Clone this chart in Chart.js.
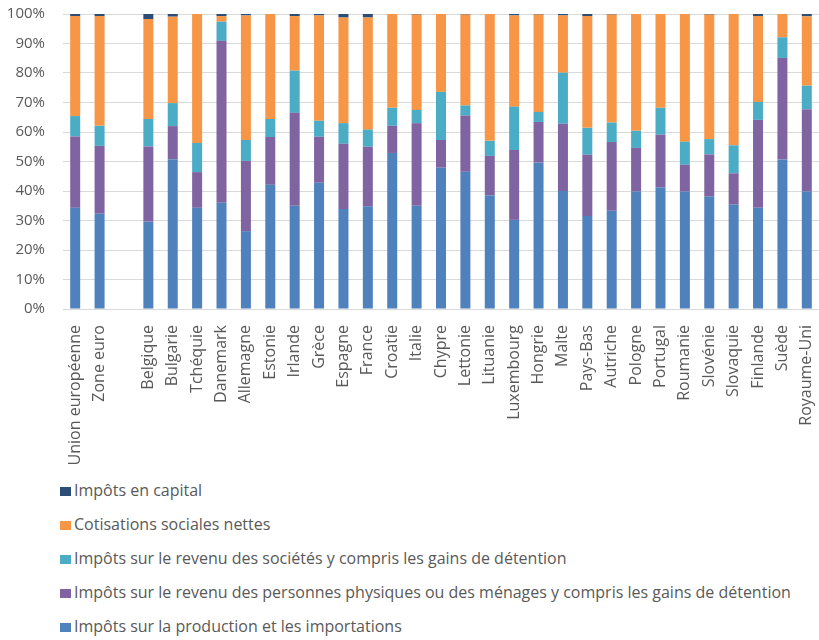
<!DOCTYPE html>
<html>
<head>
<meta charset="utf-8">
<script src="https://cdn.jsdelivr.net/npm/chart.js@4/dist/chart.umd.min.js"></script>
<style>
  body { margin: 0; background: #fff; }
  #wrap { position: relative; width: 819px; height: 640px; }
  #box { position: absolute; left: 0; top: 0; width: 819px; height: 470px; }
  #legend { position: absolute; left: 60px; top: 478px; font-family: "Open Sans", sans-serif; font-size: 16px; color: #595959; }
  #legend div { height: 34px; line-height: 25px; white-space: nowrap; }
  #legend span.sw { display: inline-block; width: 11px; height: 9px; margin-right: 3px; vertical-align: 0px; }
</style>
</head>
<body>
<div id="wrap">
  <div id="box"><canvas id="taxChart"></canvas></div>
  <div id="legend"></div>
</div>
<script>
// categories (empty slot between the aggregates and the countries)
const pays = ['Union européenne', 'Zone euro', '', 'Belgique', 'Bulgarie', 'Tchéquie', 'Danemark', 'Allemagne',
  'Estonie', 'Irlande', 'Grèce', 'Espagne', 'France', 'Croatie', 'Italie', 'Chypre', 'Lettonie', 'Lituanie',
  'Luxembourg', 'Hongrie', 'Malte', 'Pays-Bas', 'Autriche', 'Pologne', 'Portugal', 'Roumanie', 'Slovénie',
  'Slovaquie', 'Finlande', 'Suède', 'Royaume-Uni'];

// shares in % of total receipts
const production = [34.3, 32.3, null, 29.6, 50.8, 34.3, 36.0, 26.4, 42.1, 35.0, 42.8, 33.9, 34.8, 52.9, 35.0, 47.9, 46.5, 38.6, 30.2, 49.6, 40.0, 31.5, 33.3, 39.8, 41.3, 39.8, 38.1, 35.4, 34.3, 50.7, 39.8];
const menages    = [24.2, 23.0, null, 25.5, 11.2, 12.1, 54.9, 23.8, 16.2, 31.5, 15.6, 22.1, 20.2,  9.2, 28.0,  9.4, 19.1, 13.3, 23.7, 13.8, 22.8, 20.8, 23.3, 14.8, 17.8,  9.1, 14.3, 10.6, 29.8, 34.4, 27.9];
const societes   = [ 6.9,  6.8, null,  9.3,  7.8,  9.9,  6.5,  7.1,  6.1, 14.3,  5.4,  7.0,  5.8,  6.1,  4.5, 16.3,  3.4,  5.1, 14.7,  3.4, 17.3,  9.1,  6.6,  5.8,  9.1,  7.8,  5.2,  9.5,  6.1,  7.0,  8.0];
const cotisations= [33.9, 37.2, null, 33.9, 29.3, 43.7,  1.9, 42.2, 35.6, 18.5, 35.7, 35.8, 38.0, 31.8, 32.3, 26.4, 30.8, 43.0, 30.9, 33.0, 19.4, 37.9, 36.6, 39.6, 31.8, 43.3, 42.2, 44.5, 29.1,  7.9, 23.5];
const capital    = [ 0.7,  0.7, null,  1.7,  0.9,  0.0,  0.7,  0.5,  0.0,  0.7,  0.5,  1.2,  1.2,  0.0,  0.2,  0.0,  0.2,  0.0,  0.5,  0.2,  0.5,  0.7,  0.2,  0.0,  0.0,  0.0,  0.2,  0.0,  0.7,  0.0,  0.8];

const yTicks = [0, 10, 20, 30, 40, 50, 60, 70, 80, 90, 100];

const gris = '#595959';
const grille = '#d9d9d9';

const chartData = {
  labels: pays,
  datasets: [
    { label: 'Impôts sur la production et les importations', data: production, backgroundColor: '#4F81BD' },
    { label: 'Impôts sur le revenu des personnes physiques ou des ménages y compris les gains de détention', data: menages, backgroundColor: '#8064A2' },
    { label: 'Impôts sur le revenu des sociétés y compris les gains de détention', data: societes, backgroundColor: '#4BACC6' },
    { label: 'Cotisations sociales nettes', data: cotisations, backgroundColor: '#F79646' },
    { label: 'Impôts en capital', data: capital, backgroundColor: '#2C4D75' }
  ]
};
chartData.datasets.forEach(d => {
  d.barPercentage = 0.41;
  d.categoryPercentage = 1;
});

const chartOptions = {
  responsive: true,
  maintainAspectRatio: false,
  animation: false,
  layout: { padding: { top: 14, left: 0, right: 0, bottom: 0 } },
  plugins: { legend: { display: false }, tooltip: { enabled: false } },
  scales: {
    x: {
      stacked: true,
      grid: { display: false },
      border: { color: grille, width: 1 },
      ticks: {
        autoSkip: false, maxRotation: 90, minRotation: 90, padding: 8,
        color: gris, font: { family: 'Open Sans', size: 16 }
      },
      afterFit: s => { s.height = 470 - 309; s.paddingLeft = 0; s.paddingRight = 0; }
    },
    y: {
      stacked: true,
      min: 0, max: 100,
      afterBuildTicks: s => { s.ticks = yTicks.map(v => ({ value: v })); },
      grid: { color: grille, lineWidth: 1, drawTicks: false },
      border: { display: false },
      ticks: {
        padding: 18, color: gris, font: { family: 'Open Sans', size: 15 },
        callback: v => v + '%'
      },
      afterFit: s => { s.width = 63; s.paddingTop = 0; s.paddingBottom = 0; }
    }
  }
};

const chart = new Chart(document.getElementById('taxChart').getContext('2d'), {
  type: 'bar',
  data: chartData,
  options: chartOptions
});

// legend: one item per line, top item = top of the stack
const leg = document.getElementById('legend');
chart.data.datasets.slice().reverse().forEach(d => {
  const row = document.createElement('div');
  const sw = document.createElement('span');
  sw.className = 'sw';
  sw.style.background = d.backgroundColor;
  row.appendChild(sw);
  row.appendChild(document.createTextNode(d.label));
  leg.appendChild(row);
});
</script>
</body>
</html>
